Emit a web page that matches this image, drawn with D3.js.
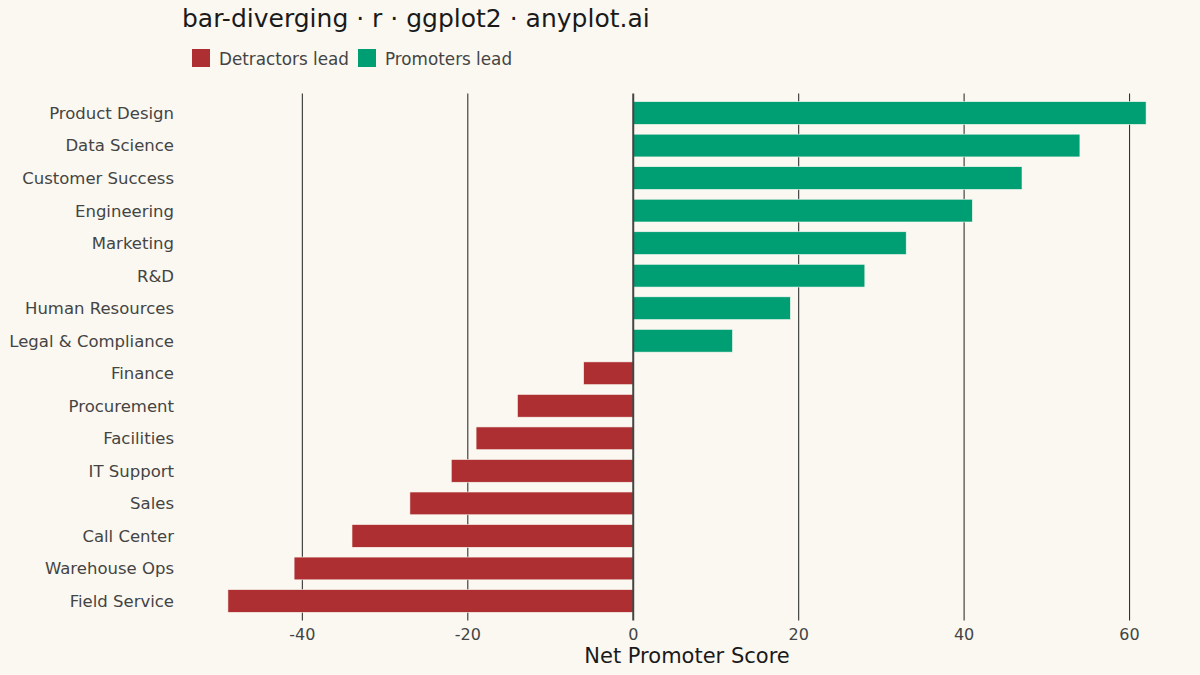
<!DOCTYPE html>
<html><head><meta charset="utf-8">
<script src="https://cdn.jsdelivr.net/npm/d3@7"></script>
<style>html,body{margin:0;padding:0;background:#FAF8F1;}svg{display:block;font-family:"DejaVu Sans",sans-serif;}</style>
</head><body>
<svg id="chart" width="1200" height="675"></svg>
<script>
const departments = ["Product Design","Data Science","Customer Success","Engineering","Marketing","R&D","Human Resources","Legal & Compliance","Finance","Procurement","Facilities","IT Support","Sales","Call Center","Warehouse Ops","Field Service"];
const nps = [62,54,47,41,33,28,19,12,-6,-14,-19,-22,-27,-34,-41,-49];
const xTicks = [-40,-20,0,20,40,60];
const legendLabels = ["Detractors lead","Promoters lead"];
const colors = {"Detractors lead":"#AE2F32","Promoters lead":"#009E73"};

const data = departments.map((d,i)=>({dept:d, v:nps[i], grp: nps[i] < 0 ? "Detractors lead" : "Promoters lead"}));
const svg = d3.select("#chart");
const W=1200,H=675;
const panel = {left:182, right:1192, top:93.5, bottom:620.5};

const lo = d3.min(nps), hi = d3.max(nps), span = hi-lo;
const x = d3.scaleLinear().domain([lo-0.05*span, hi+0.05*span]).range([panel.left, panel.right]);
const y = d3.scaleBand().domain(departments).range([panel.top, panel.bottom]).paddingInner(0.3).paddingOuter(0.25);

svg.append("rect").attr("width",W).attr("height",H).attr("fill","#FAF8F1");

// gridlines
svg.append("g").selectAll("line").data(xTicks.filter(t=>t!==0)).join("line")
  .attr("x1",d=>x(d)).attr("x2",d=>x(d)).attr("y1",panel.top).attr("y2",panel.bottom)
  .attr("stroke","#333").attr("stroke-width",1.1);

// bars
svg.append("g").selectAll("rect").data(data).join("rect")
  .attr("x",d=>Math.min(x(0),x(d.v))).attr("width",d=>Math.abs(x(d.v)-x(0)))
  .attr("y",d=>y(d.dept)).attr("height",y.bandwidth())
  .attr("fill",d=>colors[d.grp]).attr("stroke","#FAF8F1").attr("stroke-width",0.6);

// zero line
svg.append("line").attr("x1",x(0)).attr("x2",x(0)).attr("y1",panel.top).attr("y2",panel.bottom)
  .attr("stroke","#444").attr("stroke-width",2);

// y labels
svg.append("g").selectAll("text").data(departments).join("text")
  .attr("x",panel.left-8).attr("y",d=>y(d)+y.bandwidth()/2).attr("dy","0.36em")
  .attr("text-anchor","end").attr("font-size",16.5).attr("fill","#444").text(d=>d);

// x tick labels
svg.append("g").selectAll("text").data(xTicks).join("text")
  .attr("x",d=>x(d)).attr("y",640).attr("text-anchor","middle")
  .attr("font-size",16).attr("fill","#444").text(d=>d);

// axis title
svg.append("text").attr("x",(panel.left+panel.right)/2).attr("y",663).attr("text-anchor","middle")
  .attr("font-size",21).attr("fill","#1a1a1a").text("Net Promoter Score");

// title
svg.append("text").attr("x",182).attr("y",27).attr("font-size",25).attr("fill","#1a1a1a")
  .text("bar-diverging · r · ggplot2 · anyplot.ai");

// legend
const lg = svg.append("g");
const lx = [192, 358];
legendLabels.forEach((l,i)=>{
  lg.append("rect").attr("x",lx[i]).attr("y",49).attr("width",18).attr("height",18).attr("fill",colors[l]);
  lg.append("text").attr("x",lx[i]+27).attr("y",59).attr("dy","0.36em").attr("font-size",16.8).attr("fill","#444").text(l);
});
</script>
</body></html>
